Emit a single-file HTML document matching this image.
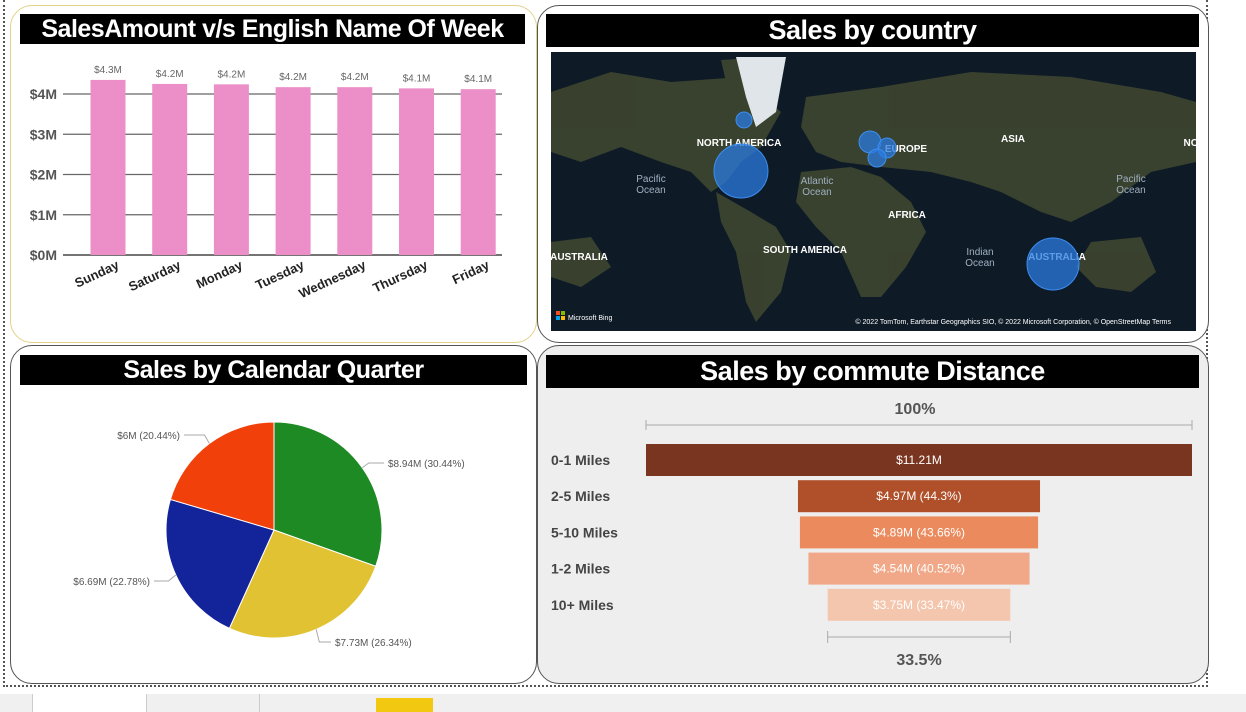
<!DOCTYPE html>
<html><head><meta charset="utf-8">
<style>
body{margin:0;width:1246px;height:712px;background:#fff;position:relative;overflow:hidden;font-family:"Liberation Sans",sans-serif}
.panel{position:absolute;border:1px solid #555;border-radius:22px;box-sizing:border-box;overflow:hidden}
.title{position:absolute;background:#000;color:#fff;font-weight:bold;text-align:center;font-family:"Liberation Sans Narrow","Liberation Sans",sans-serif;letter-spacing:-0.5px}
.abs{position:absolute}
</style></head><body>
<div class="abs" style="left:3px;top:0;width:1205px;height:687px;border:2px dotted #555;border-top:none;box-sizing:border-box"></div>

<div class="panel" style="left:10px;top:5px;width:527px;height:338px;border-color:#e3d28a;background:#fff">
  <div class="title" style="left:9px;top:8px;width:505px;height:30px;font-size:25px;line-height:30px">SalesAmount v/s English Name Of Week</div>
</div>
<svg class="abs" style="left:0;top:0" width="540" height="340" id="bar"></svg>

<div class="panel" style="left:537px;top:5px;width:672px;height:338px;background:#fff">
  <div class="title" style="left:8px;top:8px;width:653px;height:33px;font-size:27px;line-height:33px">Sales by country</div>
</div>
<svg class="abs" style="left:551px;top:52px" width="645" height="279" viewBox="0 0 645 279">
  <rect width="645" height="279" fill="#0e1a26"/>
  <g fill="#3e4630" opacity="0.9">
    <path d="M0 40 L60 20 L120 30 L190 25 L230 60 L210 95 L190 110 L175 130 L160 140 L140 120 L110 110 L70 95 L30 110 L0 100Z"/>
    <path d="M170 8 L215 5 L230 25 L200 40 L175 30Z"/>
    <path d="M165 140 L200 160 L225 175 L240 200 L230 240 L205 270 L195 250 L185 200 L170 170Z"/>
    <path d="M255 45 L330 35 L420 20 L520 25 L610 40 L645 50 L645 110 L600 120 L560 150 L520 170 L490 160 L450 140 L420 130 L380 120 L330 115 L290 110 L265 100 L250 75Z"/>
    <path d="M250 120 L300 115 L330 125 L360 150 L375 180 L355 215 L330 245 L310 245 L290 200 L265 175 L245 150Z"/>
    <path d="M540 190 L590 185 L605 220 L580 240 L545 235 L525 215Z"/>
    <path d="M0 190 L40 185 L60 215 L30 235 L0 225Z"/>
  </g>
  <path d="M185 5 L235 5 L225 60 L205 75 L195 45Z" fill="#dfe5e8"/>
  <g fill="#fff" font-weight="bold" font-size="10" text-anchor="middle">
    <text x="188" y="94">NORTH AMERICA</text><text x="355" y="100">EUROPE</text><text x="462" y="90">ASIA</text>
    <text x="356" y="166">AFRICA</text><text x="254" y="201">SOUTH AMERICA</text><text x="28" y="208">AUSTRALIA</text>
    <text x="506" y="208">AUSTRALIA</text><text x="640" y="94">NO</text>
  </g>
  <g fill="#9fb0c0" font-size="10" text-anchor="middle">
    <text x="100" y="130">Pacific</text><text x="100" y="141">Ocean</text>
    <text x="266" y="132">Atlantic</text><text x="266" y="143">Ocean</text>
    <text x="580" y="130">Pacific</text><text x="580" y="141">Ocean</text>
    <text x="429" y="203">Indian</text><text x="429" y="214">Ocean</text>
  </g>
  <g fill="#2a7be0" fill-opacity="0.75" stroke="#3d8ef0">
    <ellipse cx="190" cy="119" rx="27" ry="27"/>
    <ellipse cx="193" cy="68" rx="8" ry="8"/>
    <ellipse cx="319" cy="90" rx="11" ry="11"/>
    <ellipse cx="336" cy="96" rx="9" ry="10"/>
    <ellipse cx="326" cy="106" rx="9" ry="9"/>
    <ellipse cx="502" cy="212" rx="26" ry="26"/>
  </g>
  <g><rect x="5" y="259" width="4" height="4" fill="#f25022"/><rect x="10" y="259" width="4" height="4" fill="#7fba00"/><rect x="5" y="264" width="4" height="4" fill="#00a4ef"/><rect x="10" y="264" width="4" height="4" fill="#ffb900"/></g>
  <text x="17" y="268" fill="#fff" font-size="7">Microsoft Bing</text>
  <text x="620" y="272" fill="#fff" font-size="7" text-anchor="end">© 2022 TomTom, Earthstar Geographics SIO, © 2022 Microsoft Corporation, © OpenStreetMap  Terms</text>
</svg>

<div class="panel" style="left:10px;top:345px;width:527px;height:339px;background:#fff">
  <div class="title" style="left:9px;top:9px;width:507px;height:30px;font-size:25px;line-height:30px">Sales by Calendar Quarter</div>
</div>
<svg class="abs" style="left:0;top:0" width="540" height="690" id="pie"></svg>

<div class="panel" style="left:537px;top:345px;width:672px;height:339px;background:#eeeeee">
  <div class="title" style="left:8px;top:9px;width:653px;height:33px;font-size:27px;line-height:33px">Sales by commute Distance</div>
</div>
<svg class="abs" style="left:0;top:0" width="1246" height="690" id="fun"></svg>

<div class="abs" style="left:0;top:694px;width:1246px;height:18px;background:#f0f0f0">
  <div class="abs" style="left:32px;top:0;width:113px;height:18px;background:#fff;border-left:1px solid #ccc;border-right:1px solid #ccc"></div>
  <div class="abs" style="left:146px;top:0;width:113px;height:18px;border-right:1px solid #ccc"></div>
  <div class="abs" style="left:376px;top:4px;width:57px;height:14px;background:#f2c811"></div>
</div>

<script>
const NS='http://www.w3.org/2000/svg';
function mk(p,t,a,txt){const e=document.createElementNS(NS,t);for(const k in a)e.setAttribute(k,a[k]);if(txt!==undefined)e.textContent=txt;p.appendChild(e);return e;}

// ---- bar chart ----
const days=['Sunday','Saturday','Monday','Tuesday','Wednesday','Thursday','Friday'];
const dayValues=[4.35,4.25,4.24,4.17,4.17,4.14,4.12];
const dayLabels=['$4.3M','$4.2M','$4.2M','$4.2M','$4.2M','$4.1M','$4.1M'];
const yTicks=[0,1,2,3,4];
const bar=document.getElementById('bar');
const y=v=>255-v*40.25, x=i=>108+i*61.7;
yTicks.forEach(t=>{
  const l=mk(bar,'line',{x1:63,x2:502,y1:y(t),y2:y(t),stroke:t?'#666':'#222','stroke-width':1.3});
  
  
  const tx=mk(bar,'text',{x:57,y:y(t)+5,'text-anchor':'end','font-size':14,'font-weight':'bold',fill:'#555'},'$'+t+'M');
  
  
});
days.forEach((d,i)=>{
  const r=mk(bar,'rect',{x:x(i)-17.5,y:y(dayValues[i]),width:35,height:255-y(dayValues[i]),fill:'#ec8fc9'});
  
  
  const v=mk(bar,'text',{x:x(i),y:y(dayValues[i])-7,'text-anchor':'middle','font-size':10,fill:'#666'},dayLabels[i]);
  
  
  const c=mk(bar,'text',{x:x(i)+12,y:268,'text-anchor':'end','font-size':13,'font-weight':'bold',fill:'#222',transform:`rotate(-25 ${x(i)+12} 268)`},d);
  
  
});

// ---- pie ----
const quarters=['Q1','Q2','Q3','Q4'];
const quarterValues=[8.94,7.73,6.69,6.00];
const quarterLabels=['$8.94M (30.44%)','$7.73M (26.34%)','$6.69M (22.78%)','$6M (20.44%)'];
const pieColors=['#1e8a23','#e1c233','#13239a','#f2400b'];
const pie=document.getElementById('pie');
const cx=274,cy=530,R=108,tot=quarterValues.reduce((a,b)=>a+b,0);
let a0=-Math.PI/2;
const labelPos=[[388,463,'start'],[335,642,'start'],[150,581,'end'],[180,435,'end']];
quarterValues.forEach((v,i)=>{
  const a1=a0+v/tot*2*Math.PI;
  const p=`M${cx},${cy} L${cx+R*Math.cos(a0)},${cy+R*Math.sin(a0)} A${R},${R} 0 ${a1-a0>Math.PI?1:0} 1 ${cx+R*Math.cos(a1)},${cy+R*Math.sin(a1)}Z`;
  const s=mk(pie,'path',{d:p,fill:pieColors[i],stroke:'#fff','stroke-width':1});
  
  
  const am=(a0+a1)/2, ex=cx+R*Math.cos(am), ey=cy+R*Math.sin(am);
  const [lx,ly,an]=labelPos[i];
  mk(pie,'polyline',{points:`${ex},${ey} ${ex+(an==='start'?8:-8)*Math.abs(Math.cos(am))},${ly} ${lx+(an==='start'?-4:4)},${ly}`,fill:'none',stroke:'#aaa'});
  const t=mk(pie,'text',{x:lx,y:ly+4,'text-anchor':an,'font-size':10,fill:'#555'},quarterLabels[i]);
  
  
  a0=a1;
});

// ---- funnel ----
const distances=['0-1 Miles','2-5 Miles','5-10 Miles','1-2 Miles','10+ Miles'];
const distValues=[11.21,4.97,4.89,4.54,3.75];
const distLabels=['$11.21M','$4.97M (44.3%)','$4.89M (43.66%)','$4.54M (40.52%)','$3.75M (33.47%)'];
const funColors=['#7a3520','#b0502a','#eb8a5c','#f1a888','#f5c6ae'];
const fun=document.getElementById('fun');
const fx=646,fw=546,fc=fx+fw/2,fy0=444,fh=32,fs=36.2;
const wOf=v=>v/distValues[0]*fw;
mk(fun,'text',{x:fc-4,y:414,'text-anchor':'middle','font-size':16,'font-weight':'bold',fill:'#555'},'100%');
mk(fun,'path',{d:`M${fx},420 v10 M${fx},425 H${fx+fw} M${fx+fw},420 v10`,stroke:'#aaa',fill:'none'});
distValues.forEach((v,i)=>{
  const w=wOf(v), yy=fy0+i*fs;
  const r=mk(fun,'rect',{x:fc-w/2,y:yy,width:w,height:fh,fill:funColors[i]});
  
  
  const t=mk(fun,'text',{x:fc,y:yy+fh/2+4,'text-anchor':'middle','font-size':12,fill:'#fff'},distLabels[i]);
  
  
  const c=mk(fun,'text',{x:551,y:yy+fh/2+5,'font-size':14,'font-weight':'bold',fill:'#444'},distances[i]);
  
  
});
const lw=wOf(distValues[distValues.length-1]), by=637;
mk(fun,'path',{d:`M${fc-lw/2},${by-6} v12 M${fc-lw/2},${by} H${fc+lw/2} M${fc+lw/2},${by-6} v12`,stroke:'#aaa',fill:'none'});
mk(fun,'text',{x:fc,y:665,'text-anchor':'middle','font-size':16,'font-weight':'bold',fill:'#555'},(distValues[4]/distValues[0]*100).toFixed(1)+'%');
</script>
</body></html>
